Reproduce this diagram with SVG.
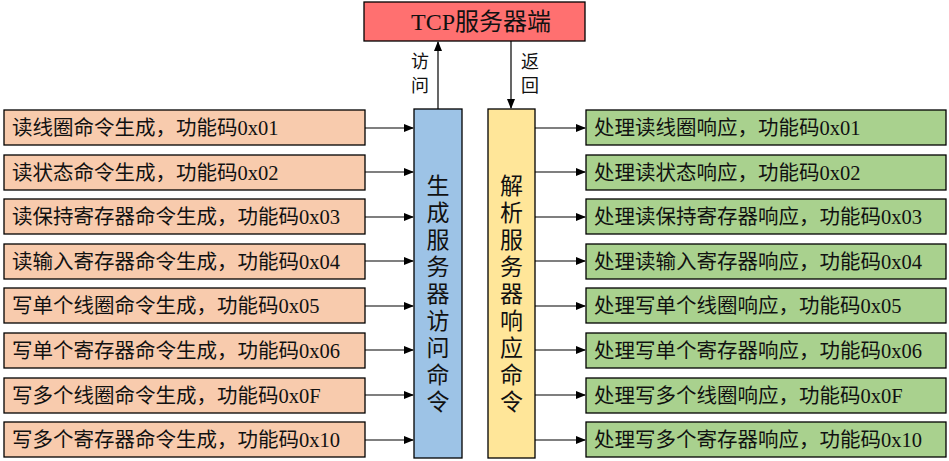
<svg xmlns="http://www.w3.org/2000/svg" width="949" height="461" viewBox="0 0 949 461">
<defs>
<marker id="ah" markerWidth="10" markerHeight="8" refX="9" refY="4" orient="auto" markerUnits="userSpaceOnUse"><path d="M0,0 L10,4 L0,8 Z" fill="#000"/></marker>
<style>
text{font-family:"Liberation Serif","Noto Sans CJK SC",serif;fill:#111}
.l{fill:#f8cbad;stroke:#000;stroke-width:1.3}
.r{fill:#a9d18e;stroke:#000;stroke-width:1.3}
.t{font-size:20.5px}
.v{font-size:23px;text-anchor:middle}
line{stroke:#000;stroke-width:1.2;marker-end:url(#ah)}
</style>
</defs>
<g id="tcp"><rect x="364" y="2" width="221" height="39" fill="#ff7070" stroke="#000" stroke-width="1.3"/><text x="481" y="30" font-size="24" text-anchor="middle">TCP服务器端</text></g>
<g id="gen"><rect x="414" y="109" width="48" height="349" fill="#9dc3e6" stroke="#000" stroke-width="1.3"/>
<text class="v" x="438"><tspan x="438" y="194">生</tspan><tspan x="438" y="221">成</tspan><tspan x="438" y="248">服</tspan><tspan x="438" y="275">务</tspan><tspan x="438" y="302">器</tspan><tspan x="438" y="329">访</tspan><tspan x="438" y="356">问</tspan><tspan x="438" y="383">命</tspan><tspan x="438" y="410">令</tspan></text></g>
<g id="parse"><rect x="488" y="109" width="47" height="349" fill="#ffe699" stroke="#000" stroke-width="1.3"/>
<text class="v"><tspan x="511.5" y="194">解</tspan><tspan x="511.5" y="221">析</tspan><tspan x="511.5" y="248">服</tspan><tspan x="511.5" y="275">务</tspan><tspan x="511.5" y="302">器</tspan><tspan x="511.5" y="329">响</tspan><tspan x="511.5" y="356">应</tspan><tspan x="511.5" y="383">命</tspan><tspan x="511.5" y="410">令</tspan></text></g>
<g id="l1"><rect class="l" x="4" y="110" width="361" height="35"/><text class="t" x="12" y="135">读线圈命令生成，功能码0x01</text></g>
<g id="l2"><rect class="l" x="4" y="155" width="361" height="35"/><text class="t" x="12" y="180">读状态命令生成，功能码0x02</text></g>
<g id="l3"><rect class="l" x="4" y="199" width="361" height="35"/><text class="t" x="12" y="224">读保持寄存器命令生成，功能码0x03</text></g>
<g id="l4"><rect class="l" x="4" y="244" width="361" height="35"/><text class="t" x="12" y="269">读输入寄存器命令生成，功能码0x04</text></g>
<g id="l5"><rect class="l" x="4" y="288" width="361" height="35"/><text class="t" x="12" y="313">写单个线圈命令生成，功能码0x05</text></g>
<g id="l6"><rect class="l" x="4" y="333" width="361" height="35"/><text class="t" x="12" y="358">写单个寄存器命令生成，功能码0x06</text></g>
<g id="l7"><rect class="l" x="4" y="378" width="361" height="35"/><text class="t" x="12" y="403">写多个线圈命令生成，功能码0x0F</text></g>
<g id="l8"><rect class="l" x="4" y="422" width="361" height="35"/><text class="t" x="12" y="447">写多个寄存器命令生成，功能码0x10</text></g>
<g id="r1"><rect class="r" x="586" y="110" width="360" height="35"/><text class="t" x="594" y="135">处理读线圈响应，功能码0x01</text></g>
<g id="r2"><rect class="r" x="586" y="155" width="360" height="35"/><text class="t" x="594" y="180">处理读状态响应，功能码0x02</text></g>
<g id="r3"><rect class="r" x="586" y="199" width="360" height="35"/><text class="t" x="594" y="224">处理读保持寄存器响应，功能码0x03</text></g>
<g id="r4"><rect class="r" x="586" y="244" width="360" height="35"/><text class="t" x="594" y="269">处理读输入寄存器响应，功能码0x04</text></g>
<g id="r5"><rect class="r" x="586" y="288" width="360" height="35"/><text class="t" x="594" y="313">处理写单个线圈响应，功能码0x05</text></g>
<g id="r6"><rect class="r" x="586" y="333" width="360" height="35"/><text class="t" x="594" y="358">处理写单个寄存器响应，功能码0x06</text></g>
<g id="r7"><rect class="r" x="586" y="378" width="360" height="35"/><text class="t" x="594" y="403">处理写多个线圈响应，功能码0x0F</text></g>
<g id="r8"><rect class="r" x="586" y="422" width="360" height="35"/><text class="t" x="594" y="447">处理写多个寄存器响应，功能码0x10</text></g>
<g id="connectors">
<line x1="438" y1="109" x2="438" y2="42"/>
<line x1="511" y1="41" x2="511" y2="108"/>
<text x="420" y="68" font-size="18" text-anchor="middle">访</text><text x="420" y="92" font-size="18" text-anchor="middle">问</text>
<text x="530" y="68" font-size="18" text-anchor="middle">返</text><text x="530" y="92" font-size="18" text-anchor="middle">回</text>
<line x1="365" y1="128" x2="413" y2="128"/><line x1="365" y1="172" x2="413" y2="172"/><line x1="365" y1="217" x2="413" y2="217"/><line x1="365" y1="261" x2="413" y2="261"/><line x1="365" y1="306" x2="413" y2="306"/><line x1="365" y1="350" x2="413" y2="350"/><line x1="365" y1="395" x2="413" y2="395"/><line x1="365" y1="440" x2="413" y2="440"/>
<line x1="535" y1="128" x2="585" y2="128"/><line x1="535" y1="172" x2="585" y2="172"/><line x1="535" y1="217" x2="585" y2="217"/><line x1="535" y1="261" x2="585" y2="261"/><line x1="535" y1="306" x2="585" y2="306"/><line x1="535" y1="350" x2="585" y2="350"/><line x1="535" y1="395" x2="585" y2="395"/><line x1="535" y1="440" x2="585" y2="440"/>
</g>
</svg>
